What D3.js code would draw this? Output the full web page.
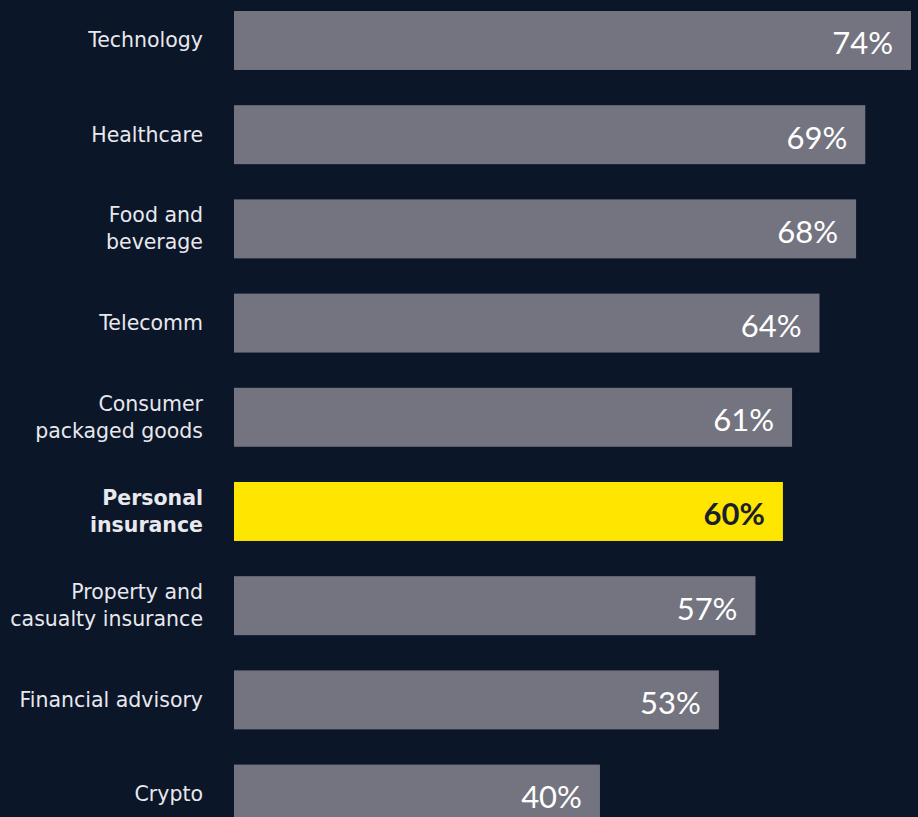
<!DOCTYPE html>
<html><head><meta charset="utf-8">
<script src="https://cdn.jsdelivr.net/npm/d3@7"></script>
<style>
html,body{margin:0;padding:0;background:#0b1628;}
svg{display:block;}
</style></head>
<body>
<div id="chart"></div>
<script>
const categories = ["Technology","Healthcare","Food and\nbeverage","Telecomm","Consumer\npackaged goods","Personal\ninsurance","Property and\ncasualty insurance","Financial advisory","Crypto"];
const values = [74,69,68,64,61,60,57,53,40];
const highlight = "Personal\ninsurance";

const W = 918, H = 817;
const svg = d3.select("#chart").append("svg").attr("width",W).attr("height",H);
svg.append("rect").attr("width",W).attr("height",H).attr("fill","#0b1628");

const step = 94.2, pad = 0.374;
const x = d3.scaleLinear().domain([0,74]).range([234,911]);
const y = d3.scaleBand().domain(categories)
  .range([11 - pad*step, 11 + step*categories.length])
  .paddingInner(pad).paddingOuter(pad);

const data = categories.map((c,i)=>({c, v: values[i]}));

const g = svg.append("g");
g.selectAll("rect.bar").data(data).join("rect")
  .attr("class","bar")
  .attr("x", x(0)).attr("y", d=>y(d.c))
  .attr("width", d=>x(d.v)-x(0)).attr("height", y.bandwidth())
  .attr("fill", d=>d.c===highlight?"#ffe600":"#747480");

g.selectAll("text.val").data(data).join("text")
  .attr("class","val")
  .attr("x", d=>x(d.v)-18).attr("y", d=>y(d.c)+y.bandwidth()/2+14)
  .attr("text-anchor","end")
  .attr("font-family","Lato, 'Noto Sans', sans-serif")
  .attr("font-size",31)
  .attr("font-weight", d=>d.c===highlight?700:400)
  .attr("fill", d=>d.c===highlight?"#1a1f2c":"#ffffff")
  .text(d=>d.v+"%");

const lab = g.selectAll("text.cat").data(data).join("text")
  .attr("class","cat")
  .attr("text-anchor","end")
  .attr("font-family","'DejaVu Sans', sans-serif")
  .attr("font-size",20.5)
  .attr("font-weight", d=>d.c===highlight?700:400)
  .attr("fill","#e8e8ee");
lab.each(function(d){
  const lines = d.c.split("\n");
  const cy = y(d.c)+y.bandwidth()/2;
  const lh = 27;
  const t = d3.select(this);
  lines.forEach((ln,i)=>{
    t.append("tspan").attr("x",203)
      .attr("y", cy + (i-(lines.length-1)/2)*lh + 7)
      .text(ln);
  });
});
</script>
</body></html>
